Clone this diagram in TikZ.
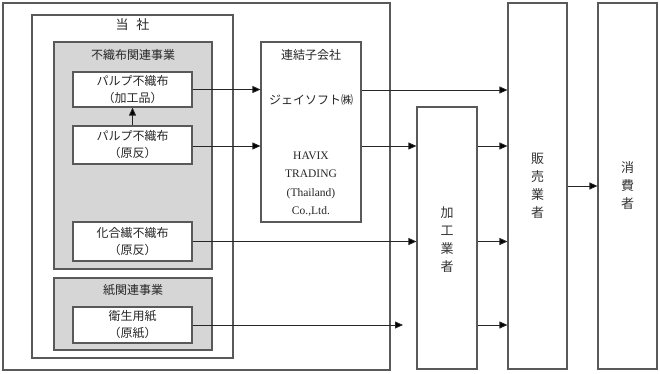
\documentclass[tikz,border=0pt]{standalone}
\usepackage{fontspec}
\setmainfont{Noto Sans CJK JP}
\newfontfamily\latinserif{Liberation Serif}
\usetikzlibrary{arrows.meta}
\begin{document}
\begin{tikzpicture}[x=1pt,y=-1pt,
  box/.style={draw=black!65, line width=1.1pt, fill=white, inner sep=0pt, anchor=center},
  graybox/.style={box, fill=black!16},
  lbl/.style={inner sep=0pt, font=\fontsize{12pt}{17pt}\selectfont, text=black!85, align=center},
  vlbl/.style={inner sep=0pt, font=\fontsize{13pt}{18pt}\selectfont, text=black!80, align=center},
  arr/.style={draw=black!85, line width=0.8pt, -{Triangle[length=8pt,width=7pt,fill=black]}}
]
\useasboundingbox (0,0) rectangle (660,374);
% outer frames
\node[box, minimum width=387pt, minimum height=367pt] (outer) at (196.5,186.5) {};
\node[box, minimum width=201pt, minimum height=343pt] (tosha) at (132.5,186.5) {};
\node[lbl, font=\fontsize{13pt}{16pt}\selectfont] (toshat) at (132.5,25) {当\hspace{0.6em}社};
% nonwoven business
\node[graybox, minimum width=158pt, minimum height=227pt] (fushoku) at (133,155.5) {};
\node[lbl] (fushokut) at (133,55) {不織布関連事業};
\node[box, minimum width=119pt, minimum height=35pt] (pulpk) at (132.5,89.5) {};
\node[lbl] (pulpkt) at (132.5,89.5) {パルプ不織布\\（加工品）};
\node[box, minimum width=119pt, minimum height=38pt] (pulpg) at (132.5,145) {};
\node[lbl] (pulpgt) at (132.5,145) {パルプ不織布\\（原反）};
\node[box, minimum width=119pt, minimum height=39pt] (kago) at (132.5,241.5) {};
\node[lbl] (kagot) at (132.5,241.5) {化合繊不織布\\（原反）};
% paper business
\node[graybox, minimum width=158pt, minimum height=72pt] (kami) at (133,314) {};
\node[lbl] (kamit) at (133,290) {紙関連事業};
\node[box, minimum width=119pt, minimum height=36pt] (eisei) at (132.5,325) {};
\node[lbl] (eiseit) at (132.5,325) {衛生用紙\\（原紙）};
% subsidiaries
\node[box, minimum width=100pt, minimum height=180pt] (renketsu) at (311,132) {};
\node[lbl] (renketsut) at (311,55) {連結子会社};
\node[lbl] (jsoft) at (311,100) {ジェイソフト㈱};
\node[lbl, font=\latinserif\fontsize{11.5pt}{18.5pt}\selectfont] (havix) at (311,184) {HAVIX\\TRADING\\(Thailand)\\Co.,Ltd.};
% right columns
\node[box, minimum width=60pt, minimum height=262pt] (kako) at (447,238) {};
\node[vlbl] (kakot) at (447,240) {加\\工\\業\\者};
\node[box, minimum width=59pt, minimum height=366pt] (hanbai) at (537.5,186) {};
\node[vlbl] (hanbait) at (537.5,186) {販\\売\\業\\者};
\node[box, minimum width=59pt, minimum height=366pt] (shohi) at (627.5,186) {};
\node[vlbl] (shohit) at (627.5,186) {消\\費\\者};
% arrows
\draw[arr] (pulpg.north) -- (pulpk.south);
\draw[arr] (pulpk.east) -- (pulpk.east -| renketsu.west);
\draw[arr] (pulpg.east |- 0,146) -- (renketsu.west |- 0,146);
\draw[arr] (renketsu.east |- 0,90) -- (hanbai.west |- 0,90);
\draw[arr] (renketsu.east |- 0,146) -- (kako.west |- 0,146);
\draw[arr] (kako.east |- 0,146) -- (hanbai.west |- 0,146);
\draw[arr] (kago.east) -- (kago.east -| kako.west);
\draw[arr] (kako.east |- kago.east) -- (hanbai.west |- kago.east);
\coordinate (eiseiend) at (403,325);
\draw[arr] (eisei.east) -- (eiseiend);
\draw[arr] (kako.east |- eisei.east) -- (hanbai.west |- eisei.east);
\draw[arr] (hanbai.east) -- (shohi.west);
\end{tikzpicture}
\end{document}
